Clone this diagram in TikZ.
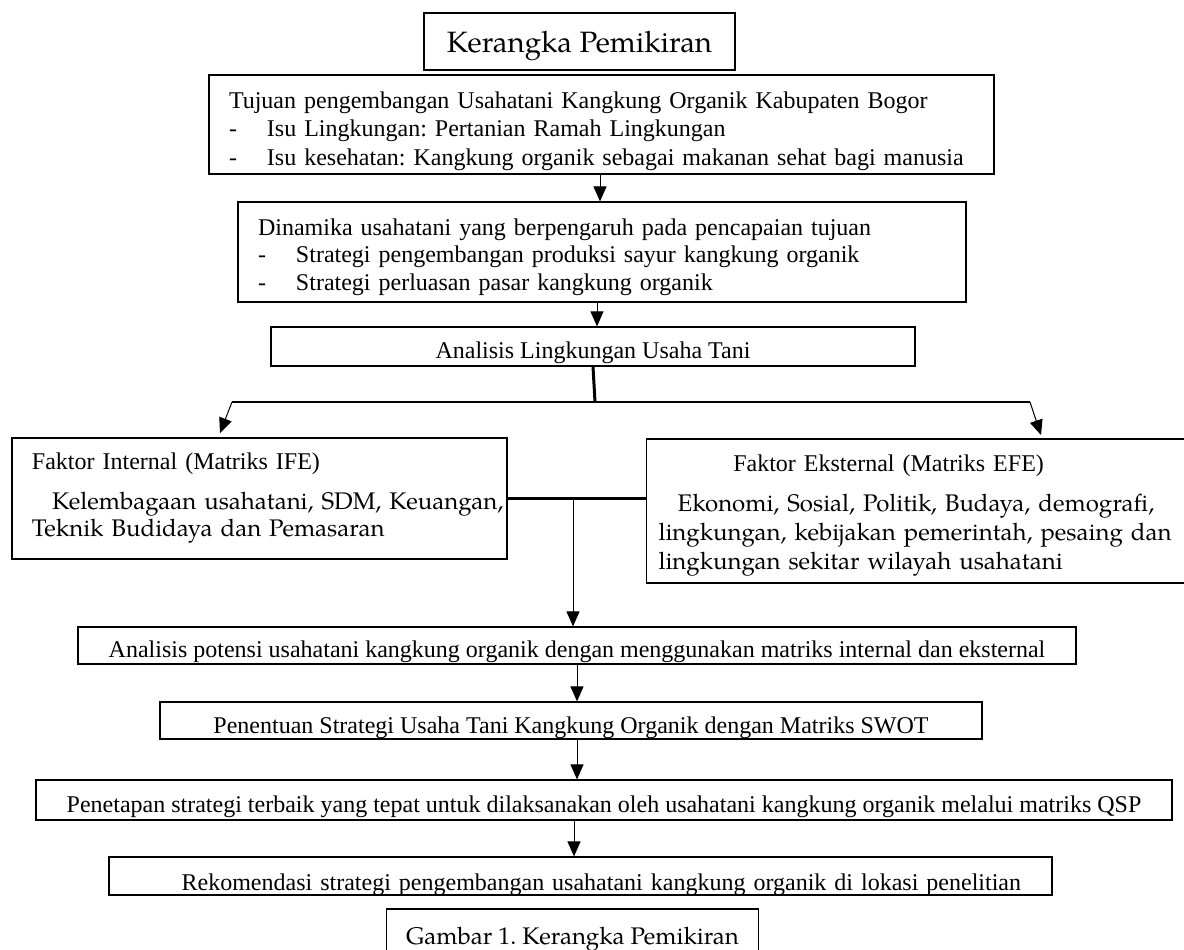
\documentclass[tikz,border=0pt]{standalone}
\usepackage{fontspec}
\setmainfont{Liberation Serif}
\newfontfamily\pala{TeX Gyre Pagella}
\usepackage{tikz}
\usetikzlibrary{arrows.meta}
\frenchspacing

\begin{document}
\begin{tikzpicture}[x=0.5pt, y=-0.5pt,
    kotak/.style={draw, line width=0.6pt, inner sep=0pt, font=\fontsize{12}{14}\selectfont},
    panah/.style={-{Triangle[length=7.5pt, width=6.5pt]}, line width=0.5pt},
    tebal/.style={line width=1.2pt}]
    \useasboundingbox (0, 0) rectangle (1184, 949);
    \clip (0, 0) rectangle (1184, 949);

    \node[kotak, line width=0.75pt, minimum width=155.5pt, text height=19.5pt, text depth=9pt, font=\pala\fontsize{14.7}{17}\selectfont] (judul) at (579.5, 41.5) {Kerangka Pemikiran};
    \node[kotak, text width=372.5pt, inner xsep=10pt, minimum height=49.5pt, align=left, font=\fontsize{12}{14.25}\selectfont] (tujuan) at (601.5, 124.5) {\rule{0pt}{15pt}Tujuan pengembangan Usahatani Kangkung Organik Kabupaten Bogor\\
        \makebox[19pt][l]{-}Isu Lingkungan: Pertanian Ramah Lingkungan\\
        \makebox[19pt][l]{-}Isu kesehatan: Kangkung organik sebagai makanan sehat bagi manusia};
    \node[kotak, text width=344pt, inner xsep=10pt, minimum height=50pt, align=left, font=\fontsize{12}{13.75}\selectfont] (dinamika) at (602, 252) {\rule{0pt}{13.5pt}Dinamika usahatani yang berpengaruh pada pencapaian tujuan\\
        \makebox[19pt][l]{-}Strategi pengembangan produksi sayur kangkung organik\\
        \makebox[19pt][l]{-}Strategi perluasan pasar kangkung organik};
    \node[kotak, minimum width=322pt, text height=15.5pt, text depth=4pt] (lingk) at (593, 346.5) {Analisis Lingkungan Usaha Tani};
    \node[kotak, text width=227.5pt, inner xsep=10pt, minimum height=60.5pt, align=left, font=\fontsize{12}{13.75}\selectfont] (internal) at (259.5, 498.5) {Faktor Internal (Matriks IFE)\\[6pt]
        {\pala\hspace*{10pt}\mbox{Kelembagaan usahatani, SDM, Keuangan,}\\
        Teknik Budidaya dan Pemasaran}};
    \node[kotak, text width=265pt, inner xsep=6pt, minimum height=72pt, align=left, anchor=west, font=\fontsize{12}{14.5}\selectfont] (eksternal) at (646, 511) {\rule{0pt}{13pt}\makebox[230pt]{Faktor Eksternal (Matriks EFE)}\\[5.5pt]
        {\pala\hspace*{9.5pt}Ekonomi, Sosial, Politik, Budaya, demografi,\\
        lingkungan, kebijakan pemerintah, pesaing dan\\
        lingkungan sekitar wilayah usahatani}};
    \node[kotak, minimum width=499pt, text height=15pt, text depth=3.5pt] (potensi) at (577, 645.5) {Analisis potensi usahatani kangkung organik dengan menggunakan matriks internal dan eksternal};
    \node[kotak, minimum width=411pt, text height=15.5pt, text depth=3pt] (penentuan) at (571, 720.5) {Penentuan Strategi Usaha Tani Kangkung Organik dengan Matriks SWOT};
    \node[kotak, minimum width=568pt, text height=16pt, text depth=4pt] (penetapan) at (604, 800) {Penetapan strategi terbaik yang tepat untuk dilaksanakan oleh usahatani kangkung organik melalui matriks QSP};
    \node[kotak, text width=440.5pt, inner xsep=15.5pt, align=right, text height=16.5pt, text depth=2.5pt] (rekomendasi) at (580.5, 876) {Rekomendasi strategi pengembangan usahatani kangkung organik di lokasi penelitian};
    \node[kotak, inner xsep=10pt, text height=17.5pt, text depth=20pt, anchor=base, font=\pala\fontsize{12}{14}\selectfont] (gambar) at (572.5, 944) {Gambar 1. Kerangka Pemikiran};

    \coordinate (a1) at (600, 0);
    \coordinate (a2) at (597, 0);
    \coordinate (a3) at (577, 0);
    \coordinate (a4) at (574, 0);
    \coordinate (simpul) at (573, 0);
    \coordinate (cabang) at (595, 402);
    \coordinate (cabangL) at (232, 402);
    \coordinate (cabangR) at (1030, 402);
    \coordinate (ujungL) at (220, 433);
    \coordinate (ujungR) at (1041, 435);

    \draw[line width=1.5pt] (lingk.south) -- (cabang);
    \draw[tebal]
    (cabangL) -- (cabangR)
    (internal.east) -- (eksternal.west |- internal.east);
    \draw[panah] (tujuan.south -| a1) -- (dinamika.north -| a1);
    \draw[panah] (dinamika.south -| a2) -- (lingk.north -| a2);
    \draw[panah] (cabangL) -- (ujungL);
    \draw[panah] (cabangR) -- (ujungR);
    \draw[panah] (internal.east -| simpul) -- (potensi.north -| simpul);
    \draw[panah] (potensi.south -| a3) -- (penentuan.north -| a3);
    \draw[panah] (penentuan.south -| a3) -- (penetapan.north -| a3);
    \draw[panah] (penetapan.south -| a4) -- (rekomendasi.north -| a4);
\end{tikzpicture}
\end{document}
